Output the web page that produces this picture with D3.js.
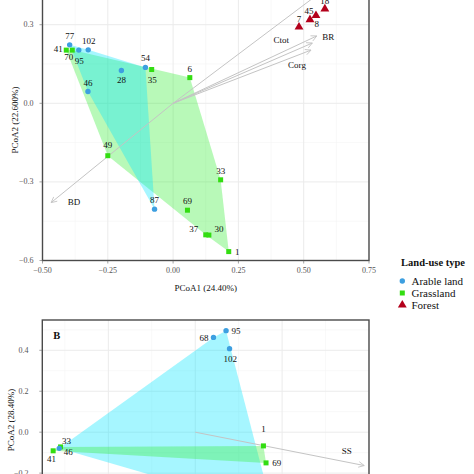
<!DOCTYPE html>
<html><head><meta charset="utf-8">
<script src="https://cdn.jsdelivr.net/npm/d3@7"></script>
<style>
body{margin:0;background:#fff}
svg{display:block}
text{font-family:"Liberation Serif","Times New Roman",serif}
</style>
</head><body>
<svg id="c" width="474" height="474"></svg>
<script>
// ---------- DATA ----------
const landUseTypes = ["Arable land", "Grassland", "Forest"];

// Panel A (PCoA1 24.40%, PCoA2 22.600%)
const aIds  = ["77","95","102","46","28","54","87","41","70","35","6","49","33","69","37","30","1","18","45","8","7"];
const aType = ["Arable land","Arable land","Arable land","Arable land","Arable land","Arable land","Arable land",
               "Grassland","Grassland","Grassland","Grassland","Grassland","Grassland","Grassland","Grassland","Grassland","Grassland",
               "Forest","Forest","Forest","Forest"];
const aPC1  = [-0.396,-0.361,-0.325,-0.326,-0.198,-0.106,-0.071,-0.409,-0.386,-0.082,0.064,-0.250,0.182,0.055,0.125,0.137,0.213,0.581,0.524,0.547,0.482];
const aPC2  = [0.223,0.203,0.204,0.045,0.125,0.137,-0.404,0.203,0.203,0.129,0.098,-0.200,-0.292,-0.408,-0.502,-0.503,-0.566,0.360,0.319,0.335,0.291];
const aArrowNames = ["BR","Ctot","Corg","","BD"];
const aArrowX = [0.550,0.533,0.528,0.600,-0.467];
const aArrowY = [0.257,0.230,0.203,0.450,-0.379];
const aXTicks = [-0.50,-0.25,0.00,0.25,0.50,0.75];
const aYTicks = [-0.6,-0.3,0.0,0.3];

// Panel B (PCoA2 28.40%)
const bIds  = ["95","68","102","46","","33","41","1","69"];
const bType = ["Arable land","Arable land","Arable land","Arable land","Arable land","Grassland","Grassland","Grassland","Grassland"];
const bPC1  = [0.071,0.042,0.079,-0.313,0.178,-0.310,-0.327,0.157,0.163];
const bPC2  = [0.496,0.463,0.408,-0.079,-0.381,-0.072,-0.091,-0.067,-0.150];
const bArrowNames = ["SS"];
const bArrowX = [0.389];
const bArrowY = [-0.163];
const bXTicks = [-0.2,0.0,0.2,0.4];
const bYTicks = [-0.6,-0.4,-0.2,0.0,0.2,0.4];

// ---------- LAYOUT (label nudges in px) ----------
const nudgeA = {"77":[0,-8.5],"41":[-8,-1],"70":[-3.5,7],"95":[0.5,10.5],"102":[0.5,-8.5],"46":[0,-8.5],"28":[0,9.5],
  "54":[0,-9],"35":[0.5,10.5],"6":[0,-9],"49":[0,-10.5],"33":[0,-9],"87":[0,-9.5],"69":[0,-9.5],"37":[-12,-6],
  "30":[10,-6],"1":[8.5,0.5],"18":[0,-7.6],"45":[-1,-9],"8":[0.7,8.3],"7":[0,-8.3]};
const arrowLabNudgeA = {"BR":[11.5,0.7],"Ctot":[-31,-3],"Corg":[-14,15],"BD":[23,-1]};
const nudgeB = {"95":[10,0],"68":[-9.5,1],"102":[0.7,10.3],"33":[6,-6],"46":[9,4],"41":[-1.7,8],"1":[0,-17],"69":[10.7,0]};
const arrowLabNudgeB = {"SS":[-17.5,-15]};

const pointColor = {"Arable land":"#3d9fe0","Grassland":"#33dd11","Forest":"#b3001b"};
const hullColor  = {"Arable land":"#00e5ff","Grassland":"#33ee33","Forest":"#ff5050"};
const hullAlpha = 0.35;

const svg = d3.select("#c");
svg.append("rect").attr("width",474).attr("height",474).attr("fill","#fff");

const defs = svg.append("defs");
defs.append("marker").attr("id","arr").attr("viewBox","0 0 10 10").attr("refX",9).attr("refY",5)
  .attr("markerWidth",7).attr("markerHeight",7).attr("markerUnits","userSpaceOnUse").attr("orient","auto")
  .append("path").attr("d","M1,1 L9,5 L1,9").attr("fill","none").attr("stroke","#c4c4c4").attr("stroke-width",1.2);

function minorTicks(t){const r=[];const s=t[1]-t[0];r.push(t[0]-s/2);t.forEach(v=>r.push(v+s/2));return r;}

function drawPanel(cfg){
  const {x,y,ids,types,px,py,arrowNames,arrowX,arrowY,xTicks,yTicks,xFmt,yFmt,nudge,arrowNudge,yLabelRight,yTitleX,yTitle,xTitle,xTitleY,letter,hullOrder,showX} = cfg;
  const g = svg.append("g");
  const [x0,x1] = x.range(), [y0,y1] = y.range();
  const clipId = "clip"+Math.random().toString(36).slice(2);
  defs.append("clipPath").attr("id",clipId).append("rect").attr("x",x0).attr("y",y1).attr("width",x1-x0).attr("height",y0-y1);
  const inner = g.append("g").attr("clip-path",`url(#${clipId})`);
  minorTicks(xTicks).forEach(v=>inner.append("line").attr("x1",x(v)).attr("x2",x(v)).attr("y1",y1).attr("y2",y0).attr("stroke","#f3f3f3").attr("stroke-width",0.6));
  minorTicks(yTicks).forEach(v=>inner.append("line").attr("y1",y(v)).attr("y2",y(v)).attr("x1",x0).attr("x2",x1).attr("stroke","#f3f3f3").attr("stroke-width",0.6));
  xTicks.forEach(v=>inner.append("line").attr("x1",x(v)).attr("x2",x(v)).attr("y1",y1).attr("y2",y0).attr("stroke","#ebebeb").attr("stroke-width",1));
  yTicks.forEach(v=>inner.append("line").attr("y1",y(v)).attr("y2",y(v)).attr("x1",x0).attr("x2",x1).attr("stroke","#ebebeb").attr("stroke-width",1));
  hullOrder.forEach(t=>{
    const pts = ids.map((d,i)=>i).filter(i=>types[i]===t).map(i=>[x(px[i]),y(py[i])]);
    if(pts.length<3) return;
    const h = d3.polygonHull(pts);
    inner.append("path").attr("d","M"+h.join("L")+"Z").attr("fill",hullColor[t]).attr("fill-opacity",hullAlpha);
  });
  arrowNames.forEach((n,i)=>{
    inner.append("line").attr("x1",x(0)).attr("y1",y(0)).attr("x2",x(arrowX[i])).attr("y2",y(arrowY[i]))
      .attr("stroke","#c4c4c4").attr("stroke-width",1).attr("marker-end","url(#arr)");
    if(n){
      const o = arrowNudge[n]||[0,0];
      inner.append("text").attr("x",x(arrowX[i])+o[0]).attr("y",y(arrowY[i])+o[1]).attr("text-anchor","middle")
        .attr("dominant-baseline","central").attr("font-size",9).attr("fill","#111").text(n);
    }
  });
  ["Grassland","Forest","Arable land"].forEach(t=>{
    ids.forEach((d,i)=>{
      if(types[i]!==t) return;
      const cx=x(px[i]), cy=y(py[i]);
      if(t==="Arable land") inner.append("circle").attr("cx",cx).attr("cy",cy).attr("r",2.7).attr("fill",pointColor[t]);
      else if(t==="Grassland") inner.append("rect").attr("x",cx-2.5).attr("y",cy-2.5).attr("width",5).attr("height",5).attr("fill",pointColor[t]);
      else inner.append("path").attr("transform",`translate(${cx},${cy})`).attr("d",d3.symbol(d3.symbolTriangle,34)()).attr("fill",pointColor[t]);
    });
  });
  ids.forEach((d,i)=>{
    if(!d) return;
    const o = nudge[d]||[0,-9];
    inner.append("text").attr("x",x(px[i])+o[0]).attr("y",y(py[i])+o[1]).attr("text-anchor","middle")
      .attr("dominant-baseline","central").attr("font-size",9).attr("fill","#111").text(d);
  });
  g.append("rect").attr("x",x0).attr("y",y1).attr("width",x1-x0).attr("height",y0-y1).attr("fill","none").attr("stroke","#4a4a4a").attr("stroke-width",1.4);
  if(showX) xTicks.forEach(v=>{
    g.append("line").attr("x1",x(v)).attr("x2",x(v)).attr("y1",y0).attr("y2",y0+3).attr("stroke","#666").attr("stroke-width",0.6);
    g.append("text").attr("x",x(v)).attr("y",y0+12).attr("text-anchor","middle").attr("font-size",8).attr("fill","#555").text(xFmt(v));
  });
  yTicks.forEach(v=>{
    if(y(v)>474) return;
    g.append("line").attr("x1",x0-3).attr("x2",x0).attr("y1",y(v)).attr("y2",y(v)).attr("stroke","#666").attr("stroke-width",0.6);
    g.append("text").attr("x",yLabelRight).attr("y",y(v)).attr("text-anchor","end").attr("dominant-baseline","central").attr("font-size",8).attr("fill","#555").text(yFmt(v));
  });
  if(xTitle) g.append("text").attr("x",(x0+x1)/2).attr("y",xTitleY).attr("text-anchor","middle").attr("font-size",9).attr("fill","#111").text(xTitle);
  g.append("text").attr("transform",`translate(${yTitleX},${cfg.yTitleY})rotate(-90)`).attr("text-anchor","middle")
    .attr("dominant-baseline","central").attr("font-size",9).attr("fill","#111").text(yTitle);
  if(letter) g.append("text").attr("x",x0+11).attr("y",y1+19).attr("font-size",10.5).attr("font-weight","bold").attr("fill","#111").text(letter);
}

const minus = s => s.replace("-","\u2212");

// Panel A
const xA = d3.scaleLinear().domain([-0.5,0.75]).range([42.5,369]);
const yA = d3.scaleLinear().domain([-0.6,0.45]).range([260.5,-14.6]);
drawPanel({x:xA,y:yA,ids:aIds,types:aType,px:aPC1,py:aPC2,arrowNames:aArrowNames,arrowX:aArrowX,arrowY:aArrowY,
  xTicks:aXTicks,yTicks:aYTicks,xFmt:v=>minus(d3.format(".2f")(v)),yFmt:v=>minus(d3.format(".1f")(v)),
  nudge:nudgeA,arrowNudge:arrowLabNudgeA,yLabelRight:33.5,yTitleX:15,yTitleY:120,
  yTitle:"PCoA2 (22.600%)",xTitle:"PCoA1 (24.40%)",xTitleY:291,
  hullOrder:["Grassland","Forest","Arable land"],showX:true});

// Panel B
const xB = d3.scaleLinear().domain([-0.352,0.4]).range([42.3,369]);
const yB = d3.scaleLinear().domain([-0.6,0.548]).range([555,320]);
drawPanel({x:xB,y:yB,ids:bIds,types:bType,px:bPC1,py:bPC2,arrowNames:bArrowNames,arrowX:bArrowX,arrowY:bArrowY,
  xTicks:bXTicks,yTicks:bYTicks,xFmt:v=>minus(d3.format(".1f")(v)),yFmt:v=>minus(d3.format(".1f")(v)),
  nudge:nudgeB,arrowNudge:arrowLabNudgeB,yLabelRight:28.5,yTitleX:11,yTitleY:420,
  yTitle:"PCoA2 (28.40%)",xTitle:null,letter:"B",
  hullOrder:["Arable land","Forest","Grassland"],showX:false});

// Legend
const lg = svg.append("g");
lg.append("text").attr("x",433).attr("y",266).attr("text-anchor","middle").attr("font-size",10.5).attr("font-weight","bold").attr("fill","#111").text("Land-use type");
landUseTypes.forEach((t,i)=>{
  const cy = 281 + i*12, cx = 402.3;
  if(t==="Arable land") lg.append("circle").attr("cx",cx).attr("cy",cy).attr("r",2.7).attr("fill",pointColor[t]);
  else if(t==="Grassland") lg.append("rect").attr("x",cx-2.5).attr("y",cy-2.5).attr("width",5).attr("height",5).attr("fill",pointColor[t]);
  else lg.append("path").attr("transform",`translate(${cx},${cy})`).attr("d",d3.symbol(d3.symbolTriangle,34)()).attr("fill",pointColor[t]);
  lg.append("text").attr("x",411.5).attr("y",cy).attr("dominant-baseline","central").attr("font-size",11).attr("fill","#111").text(t);
});
</script>
</body></html>
